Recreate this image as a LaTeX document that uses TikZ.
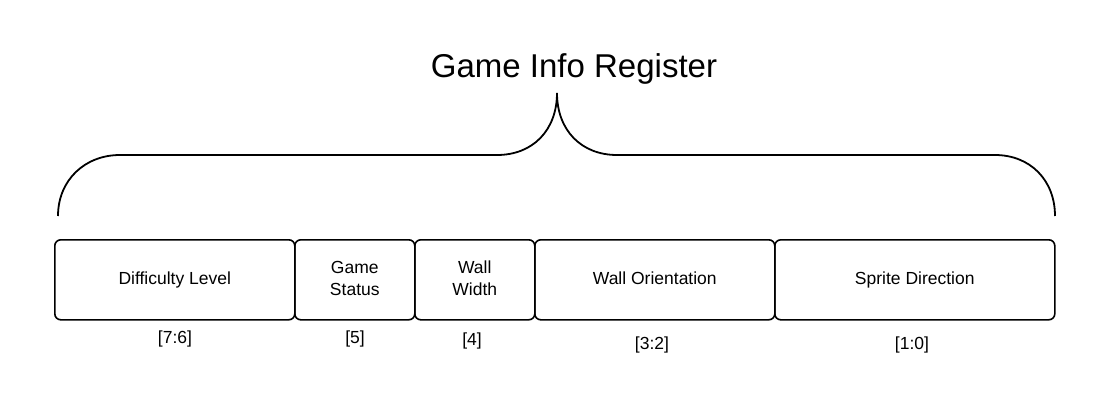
\documentclass[tikz,border=0pt]{standalone}
\usepackage{fontspec}
\setmainfont{Liberation Sans}
\begin{document}
\begin{tikzpicture}[x=1pt,y=-1pt,
  field/.style={draw=black,line width=1.6pt,rounded corners=6pt,minimum height=80pt,
    inner sep=0pt,align=center,font=\fontsize{17.5}{22}\selectfont,anchor=north west},
  bits/.style={font=\fontsize{17.5}{20}\selectfont},
  brace/.style={draw=black,line width=1.8pt}]
\useasboundingbox (0,0) rectangle (1095,412);
\node[font=\fontsize{33}{38}\selectfont] (title) at (574,69) {Game Info Register};
\node[field,minimum width=240pt] (f1) at (54,239) {\strut Difficulty Level};
\node[field,minimum width=120pt] (f2) at (294,239) {\strut Game\\\strut Status};
\node[field,minimum width=120pt] (f3) at (414,239) {\strut Wall\\\strut Width};
\node[field,minimum width=240pt] (f4) at (534,239) {\strut Wall Orientation};
\node[field,minimum width=280pt] (f5) at (774,239) {\strut Sprite Direction};
\node[bits] (b1) at (175,339) {[7:6]};
\node[bits] (b2) at (355,339) {[5]};
\node[bits] (b3) at (472,341) {[4]};
\node[bits] (b4) at (652,345) {[3:2]};
\node[bits] (b5) at (912,345) {[1:0]};
\coordinate (bl) at (58,216);
\coordinate (br) at (1055,216);
\coordinate (tip) at (557,93);
\draw[brace] (bl) .. controls (58,180) and (85,155) .. (120,155) -- (497,155)
  .. controls (533,155) and (557,130) .. (tip)
  .. controls (557,130) and (581,155) .. (617,155) -- (995,155)
  .. controls (1030,155) and (1055,180) .. (br);
\end{tikzpicture}
\end{document}
